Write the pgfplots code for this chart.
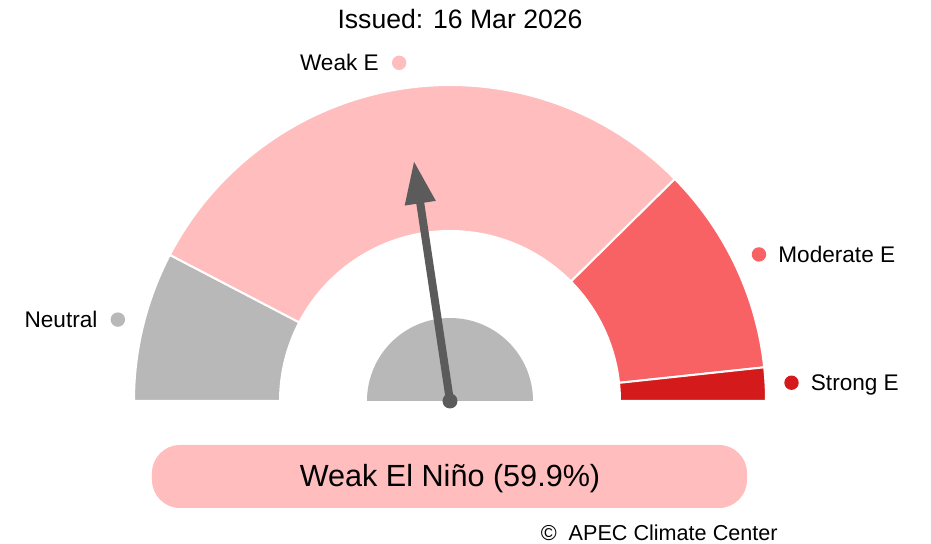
\documentclass[border=0pt]{standalone}
\usepackage{pgfplots}
\pgfplotsset{compat=1.18}
\usepackage{pgfplotstable}
\usepackage{fontspec}
\setmainfont{Liberation Sans}
\usetikzlibrary{arrows.meta}

\definecolor{cNeu}{HTML}{B8B8B8}
\definecolor{cWeak}{HTML}{FFBDBE}
\definecolor{cMod}{HTML}{F86264}
\definecolor{cStr}{HTML}{D41A1A}
\definecolor{cNeedle}{HTML}{5B5B5B}

% category, probability (%)
\pgfplotstableread{
cat pct
Neutral 15.3
WeakE 59.9
ModerateE 21.4
StrongE 3.4
}\gaugedata

\def\Ro{316}
\def\Ri{170}
\def\Rl{342}
\newcommand\sector[3]{%
  \fill[#3,draw=white,line width=1pt]
    (axis cs:{\Ro*cos(#1)},{\Ro*sin(#1)})
    arc[start angle=#1,end angle=#2,radius=\Ro*0.5pt]
    -- (axis cs:{\Ri*cos(#2)},{\Ri*sin(#2)})
    arc[start angle=#2,end angle=#1,radius=\Ri*0.5pt] -- cycle;}
\newcommand\labfont{\fontsize{11.3}{13}\selectfont}

\begin{document}
\begin{tikzpicture}
\pgfplotstablegetelem{0}{pct}\of\gaugedata \let\pN\pgfplotsretval
\pgfplotstablegetelem{1}{pct}\of\gaugedata \let\pW\pgfplotsretval
\pgfplotstablegetelem{2}{pct}\of\gaugedata \let\pM\pgfplotsretval
\pgfplotstablegetelem{3}{pct}\of\gaugedata \let\pS\pgfplotsretval
\pgfmathsetmacro\aNW{180-1.8*\pN}
\pgfmathsetmacro\aWM{\aNW-1.8*\pW}
\pgfmathsetmacro\aMS{\aWM-1.8*\pM}
\pgfmathsetmacro\mN{(180+\aNW)/2}
\pgfmathsetmacro\mW{(\aNW+\aWM)/2}
\pgfmathsetmacro\mM{(\aWM+\aMS)/2}
\pgfmathsetmacro\mS{(\aMS+0)/2}
\begin{axis}[x=0.5pt,y=0.5pt,xmin=-450,xmax=481,ymin=-143,ymax=401,
  hide axis,clip=false,disabledatascaling]
\path (axis cs:-450,-143) rectangle (axis cs:481,401);
% gauge sectors
\sector{180}{\aNW}{cNeu}
\sector{\aNW}{\aWM}{cWeak}
\sector{\aWM}{\aMS}{cMod}
\sector{\aMS}{0}{cStr}
% inner half disc
\fill[cNeu] (axis cs:-83,0) arc[start angle=180,end angle=0,radius=83*0.5pt] -- cycle;
% needle
\draw[cNeedle,line width=4pt,-{Triangle[length=21.5pt,width=14.5pt]}]
  (axis cs:0,0) -- (axis cs:{243*cos(\mW)},{243*sin(\mW)});
\fill[cNeedle] (axis cs:0,0) circle[radius=3.75pt];
% category labels
\fill[cNeu] (axis cs:{\Rl*cos(\mN)},{\Rl*sin(\mN)}) circle[radius=3.6pt];
\node[anchor=base east,inner sep=0pt,font=\labfont] at (axis cs:{\Rl*cos(\mN)-20},{\Rl*sin(\mN)-8}) {Neutral};
\fill[cWeak] (axis cs:{\Rl*cos(\mW)},{\Rl*sin(\mW)}) circle[radius=3.6pt];
\node[anchor=base east,inner sep=0pt,font=\labfont] at (axis cs:{\Rl*cos(\mW)-20},{\Rl*sin(\mW)-8}) {Weak E};
\fill[cMod] (axis cs:{\Rl*cos(\mM)},{\Rl*sin(\mM)}) circle[radius=3.6pt];
\node[anchor=base west,inner sep=0pt,font=\labfont] at (axis cs:{\Rl*cos(\mM)+19},{\Rl*sin(\mM)-8}) {Moderate E};
\fill[cStr] (axis cs:{\Rl*cos(\mS)},{\Rl*sin(\mS)}) circle[radius=3.6pt];
\node[anchor=base west,inner sep=0pt,font=\labfont] at (axis cs:{\Rl*cos(\mS)+19},{\Rl*sin(\mS)-8}) {Strong E};
% title
\node[anchor=base,inner sep=0pt,font=\fontsize{13.3}{15}\selectfont] at (axis cs:10,372) {Issued: 16 Mar 2026};
% result box
\fill[cWeak,rounded corners=14pt] (axis cs:-298,-107) rectangle (axis cs:297,-44);
\node[anchor=base,inner sep=0pt,font=\fontsize{15.3}{18}\selectfont] at (axis cs:0,-86) {Weak El Niño (59.9\%)};
% credit
\node[anchor=base east,inner sep=0pt,font=\fontsize{10.8}{13}\selectfont] at (axis cs:328,-139.5) {©\ \ APEC Climate Center};
\end{axis}
\end{tikzpicture}
\end{document}
